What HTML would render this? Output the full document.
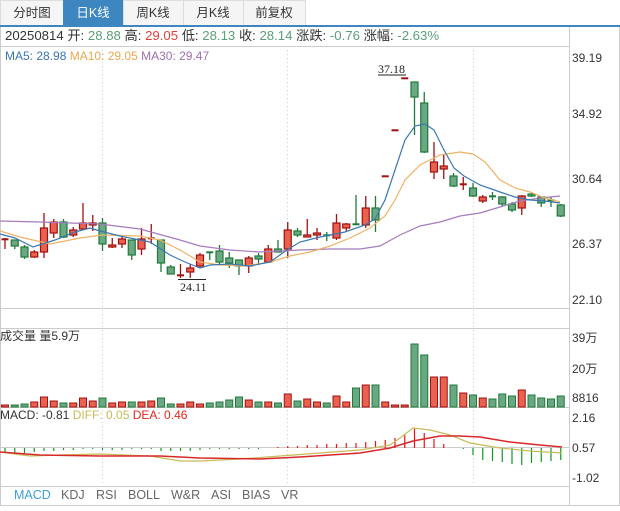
<!DOCTYPE html>
<html><head><meta charset="utf-8"><style>
body{margin:0;width:620px;height:506px;overflow:hidden;background:#fff;font-family:"Liberation Sans","Noto Sans CJK SC",sans-serif}
svg text{font-family:"Liberation Sans","Noto Sans CJK SC",sans-serif}
</style></head><body>
<svg id="s" width="620" height="506" xmlns="http://www.w3.org/2000/svg">
<rect x="0" y="0" width="620" height="506" fill="#fff"/>
<g font-size="12.5" fill="#333" text-anchor="middle">
<rect x="0.5" y="0.5" width="63" height="25" fill="#f5f5f5" stroke="#ddd"/>
<rect x="63.5" y="0.5" width="60" height="25" fill="#3d86c0" stroke="#3d86c0"/>
<rect x="123.5" y="0.5" width="60" height="25" fill="#f5f5f5" stroke="#ddd"/>
<rect x="183.5" y="0.5" width="60" height="25" fill="#f5f5f5" stroke="#ddd"/>
<rect x="243.5" y="0.5" width="62" height="25" fill="#f5f5f5" stroke="#ddd"/>
<text x="32" y="17">分时图</text><text x="93" y="17" fill="#fff">日K线</text>
<text x="153" y="17">周K线</text><text x="213" y="17">月K线</text><text x="274" y="17">前复权</text>
</g>
<rect x="0" y="25" width="620" height="2" fill="#3d86c0"/>
<g stroke="#ccc" fill="none">
<line x1="0.5" y1="27" x2="0.5" y2="506"/>
<line x1="569.5" y1="27" x2="569.5" y2="506"/>
<line x1="619.5" y1="27" x2="619.5" y2="506"/>
<line x1="0" y1="46.5" x2="570" y2="46.5"/>
<line x1="0" y1="308.5" x2="570" y2="308.5"/>
<line x1="0" y1="328.5" x2="570" y2="328.5"/>
<line x1="0" y1="407.5" x2="570" y2="407.5"/>
<line x1="0" y1="447.5" x2="570" y2="447.5"/>
<line x1="0" y1="486.5" x2="570" y2="486.5"/>
<line x1="0" y1="505.5" x2="620" y2="505.5"/>
</g>
<g stroke="#ccc" stroke-dasharray="1,3">
<line x1="102.5" y1="46" x2="102.5" y2="486"/><line x1="287.5" y1="46" x2="287.5" y2="486"/><line x1="473.5" y1="46" x2="473.5" y2="486"/>
</g>
<g font-size="12" fill="#333">
<text x="5" y="40" font-size="13.2">20250814 开: <tspan fill="#5a9e77">28.88</tspan> 高: <tspan fill="#e2413a">29.05</tspan> 低: <tspan fill="#5a9e77">28.13</tspan> 收: <tspan fill="#5a9e77">28.14</tspan> 涨跌: <tspan fill="#5a9e77">-0.76</tspan> 涨幅: <tspan fill="#5a9e77">-2.63%</tspan></text>
<text x="5" y="60"><tspan fill="#3b75b0">MA5: 28.98</tspan> <tspan fill="#eda64f">MA10: 29.05</tspan> <tspan fill="#9c6fb0">MA30: 29.47</tspan></text>
<text x="572" y="62">39.19</text><text x="572" y="118">34.92</text><text x="572" y="183">30.64</text><text x="572" y="248">26.37</text><text x="572" y="304">22.10</text>
<text x="572" y="342">39万</text><text x="572" y="373">20万</text><text x="572" y="402">8816</text>
<text x="572" y="422">2.16</text><text x="572" y="452">0.57</text><text x="572" y="482">-1.02</text>
<text x="0" y="340">成交量 量5.9万</text>
<text x="0" y="419">MACD: -0.81 <tspan fill="#c8bb5a">DIFF: 0.05</tspan> <tspan fill="#e2261c">DEA: 0.46</tspan></text>
</g>
<g font-size="12.5" fill="#666">
<text x="14" y="499" fill="#3aa0d6">MACD</text><text x="61" y="499">KDJ</text><text x="96" y="499">RSI</text><text x="128" y="499">BOLL</text><text x="171" y="499">W&amp;R</text><text x="211" y="499">ASI</text><text x="242" y="499">BIAS</text><text x="281" y="499">VR</text>
</g>
<g font-size="12" fill="#222">
<text x="378" y="73" style="font-family:'Liberation Serif',serif">37.18</text>
<line x1="378" y1="75" x2="406" y2="75" stroke="#222"/>
<text x="180" y="291" style="font-family:'Liberation Serif',serif">24.11</text>
<line x1="178" y1="279.5" x2="206" y2="279.5" stroke="#222"/>
</g>
<g id="g"></g>
</svg>
<script>
var C=[[239,240,238,249],[240,246,240,249,1],[247,257,245,259,1],[257,252,250,258],[252,228,213,258],[233,222,219,238],[222,237,219,238,1],[235,230,227,237],[229,223,203,229],[225,223,215,231],[223,244,218,251,1],[247,245,238,248],[244,239,237,248],[240,255,240,260,1],[249,239,228,255],[238,238,224,244],[240,263,240,272,1],[267,274,265,274,1],[275,275,264,278],[272,268,264,278],[266,255,253,268],[252,253,252,260,1],[251,262,245,265,1],[258,263,252,268,1],[260,266,260,275,1],[266,258,256,273],[256,259,253,265,1],[262,249,245,263],[249,252,240,252,1],[249,230,222,258],[231,235,228,237,1],[237,235,219,237],[235,233,228,240],[235,236,232,241,1],[238,223,214,240],[228,224,223,232],[224,225,195,225,1],[225,208,196,228],[208,220,196,232,1],[176,176,176,176],[130,130,130,130],[78,78,78,78],[82,97,82,135,1],[103,152,92,153,1],[172,162,142,179],[169,166,154,179],[176,186,173,187,1],[185,184,177,190],[188,196,183,197,1],[201,197,195,203],[196,196,192,200,1],[197,204,196,207,1],[204,210,202,212,1],[208,196,195,215],[194,196,192,197,1],[197,203,196,207,1],[200,200,197,207,1],[205,216,204,217,1]];
var V=[405,405,404,402,397,401,403,403,398,401,398,403,402,402,402,401,398,404,404,402,404,403,402,400,397,400,402,402,403,394,401,399,402,403,396,402,388,385,385,402,405,405,344,355,377,377,385,393,395,398,399,394,396,390,395,398,399,396];
var H=[452,452.5,453,452,451,451,450,450,449,449,450,450,450,449,449,449,451,451,451,451,450,449,449,449,449,449,449,448,447,446,446,445,445,444,444,443,443,442,441,440,438,435,428,433,439,444,448,449,455,460,461,462,464,465,463,462,461,460];
var s='',x,i;
function X(i){return 5+9.75*i}
for(i=0;i<C.length;i++){var c=C[i],g=c[4],x=X(i),col=g?'#1f7a3a':'#a01010',fill=g?'#69a883':'#e9614f';
var t=Math.min(c[0],c[1]),b=Math.max(c[0],c[1]);
s+='<line x1="'+x+'" y1="'+c[2]+'" x2="'+x+'" y2="'+c[3]+'" stroke="'+col+'" stroke-width="1.3"/>';
if(b-t<2)s+='<rect x="'+(x-3.5)+'" y="'+(t-0.7)+'" width="7" height="2" fill="'+col+'"/>';
else s+='<rect x="'+(x-3.5)+'" y="'+t+'" width="7" height="'+(b-t)+'" fill="'+fill+'" stroke="'+col+'" stroke-width="1.2"/>';
var vy=V[i];s+='<rect x="'+(x-3.5)+'" y="'+vy+'" width="7" height="'+(407-vy)+'" fill="'+fill+'" stroke="'+col+'" stroke-width="1"/>';
var h=H[i];s+='<line x1="'+x+'" y1="448" x2="'+x+'" y2="'+h+'" stroke="'+(h<448?'#ee1111':'#119922')+'" stroke-width="1.2"/>';}
function P(a,c,w){return '<polyline fill="none" stroke="'+c+'" stroke-width="'+(w||1.2)+'" points="'+a.join(' ')+'"/>'}
s+=P(['0,221','40,222','100,224','140,229','180,240','200,246','230,250','260,252','300,250','330,249','360,249','380,246','400,235','420,226','440,222','460,216','480,213','500,207','520,201','540,198','560,196'],'#a57cbe');
s+=P(['0,231','20,237','50,244','80,238','102,235','140,236','160,240','180,250','200,262','220,265','245,266','270,262','290,256','310,252','330,246','350,238','370,228','385,216','395,200','405,180','420,165','440,155','460,152','473,154','485,162','500,180','515,188','530,192','545,198','560,202'],'#eeb366');
s+=P(['0,234','15,238','33,247','55,240','75,232','90,228','100,231','120,236','150,242','170,255','185,262','200,268','210,265','230,264','250,266','270,262','287,250','300,242','320,237','345,232','365,225','375,219','385,200','395,170','405,140','415,126','425,124','434,130','444,150','454,168','464,176','480,185','500,192','515,197','530,200','545,201','560,203'],'#3b78b0');
s+=P(['0,452','30,456','60,455','100,454','150,456','180,461','200,461','240,459','280,456','320,453','360,450','390,445','400,438','413,428','430,430','450,435','470,443','500,448','530,451','562,453'],'#c8bb5a');
s+=P(['0,452','40,455','100,456','160,456','200,458','260,459','300,457','360,453','390,448','413,441','440,436','460,436','480,437','510,442','540,445','562,447'],'#d8282a',1.5);
document.getElementById('g').innerHTML=s;
</script>
</body></html>
